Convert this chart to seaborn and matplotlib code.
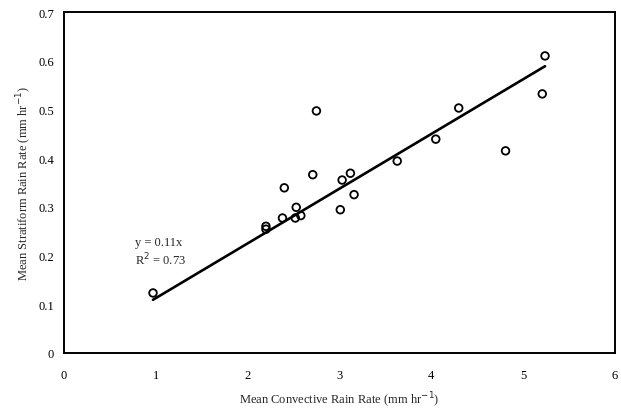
import numpy as np
import pandas as pd
import matplotlib
matplotlib.use('Agg')
import matplotlib.pyplot as plt
import seaborn as sns

# mean convective vs stratiform rain rate (mm/hr)
convective = [0.97, 2.20, 2.20, 2.38, 2.40, 2.52, 2.53, 2.58, 2.71, 2.75,
              3.01, 3.03, 3.12, 3.16, 3.63, 4.05, 4.30, 4.81, 5.21, 5.24]
stratiform = [0.123, 0.260, 0.254, 0.277, 0.339, 0.277, 0.299, 0.282, 0.366, 0.497,
              0.294, 0.355, 0.369, 0.325, 0.394, 0.439, 0.503, 0.415, 0.532, 0.610]

df = pd.DataFrame({'conv': convective, 'strat': stratiform})

sns.set_theme(style='white')
plt.rcParams['font.family'] = ['Liberation Serif', 'DejaVu Serif']

fig = plt.figure(figsize=(6.21, 4.10), dpi=100)
ax = fig.add_axes([0.103, 0.137, 0.887, 0.831])

sns.scatterplot(data=df, x='conv', y='strat', ax=ax, marker='o', s=30,
                facecolor='none', edgecolor='black', linewidth=1.3, zorder=3)

# regression through origin
slope = np.sum(df.conv * df.strat) / np.sum(df.conv ** 2)
xs = np.array([df.conv.min(), df.conv.max()])
ax.plot(xs, slope * xs, color='black', linewidth=1.9, zorder=2)

ax.text(0.77, 0.228, 'y = 0.11x', fontsize=9, ha='left', va='center')
ax.text(0.77, 0.193, 'R$^2$ = 0.73', fontsize=9, ha='left', va='center')

ax.set_xlim(0, 6)
ax.set_ylim(0, 0.7)
ax.set_xticks(range(0, 7))
ax.set_yticks(np.arange(0, 0.71, 0.1))
ax.set_yticklabels(['0', '0.1', '0.2', '0.3', '0.4', '0.5', '0.6', '0.7'])
ax.tick_params(direction='out', length=3, width=1, labelsize=9, colors='black', pad=4)
ax.tick_params(axis='x', pad=9)
for sp in ax.spines.values():
    sp.set_color('black')
    sp.set_linewidth(1.4)

ax.set_xlabel('Mean Convective Rain Rate (mm hr$^{-1}$)', fontsize=9, labelpad=6)
ax.set_ylabel('Mean Stratiform Rain Rate (mm hr$^{-1}$)', fontsize=9, labelpad=3)

fig.savefig('out.png', dpi=100)
